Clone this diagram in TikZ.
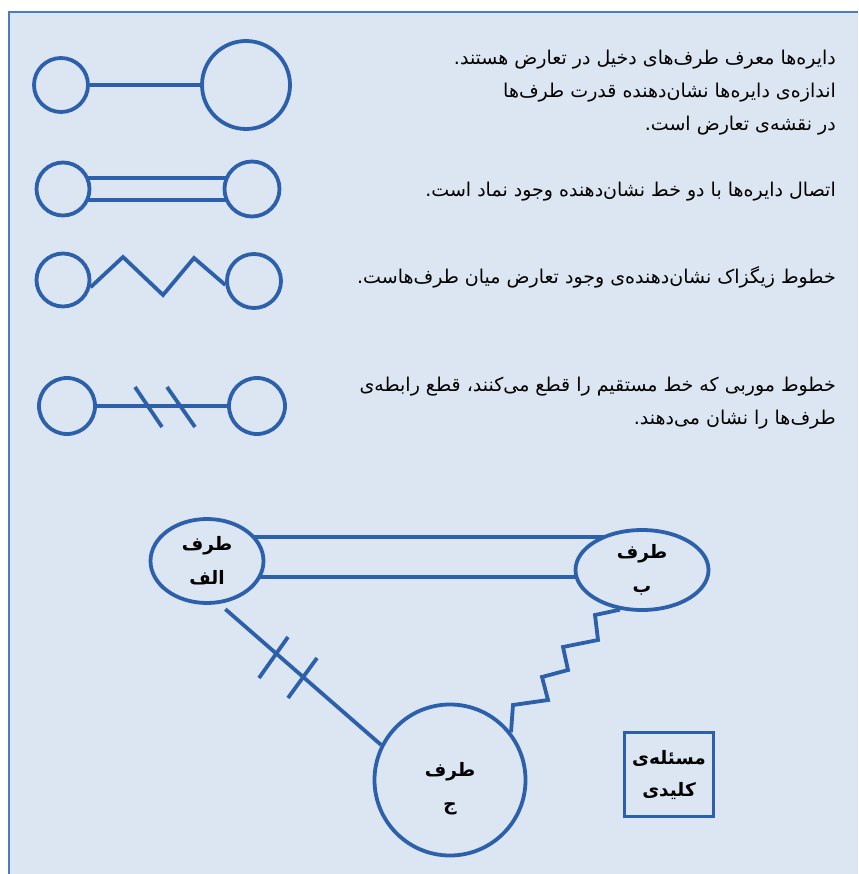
\documentclass[tikz,border=0pt]{standalone}
\usepackage{fontspec}
\usetikzlibrary{backgrounds,shapes.geometric}
\TeXXeTstate=1
\newfontfamily\arabicfont[Script=Arabic]{DejaVu Sans}
\newcommand\fatext[1]{{\arabicfont\beginR #1\endR}}
\definecolor{panelbg}{HTML}{DCE6F2}
\definecolor{panelrule}{HTML}{4A7EBB}
\definecolor{ink}{HTML}{2C60AA}

\begin{document}
\begin{tikzpicture}[x=1pt,y=-1pt,
  party/.style={draw=ink,line width=3.8pt,fill=panelbg,circle,inner sep=0pt},
  tagtext/.style={align=center,text=black,font=\bfseries\fontsize{18.5}{34}\selectfont},
  bigparty/.style={party,ellipse,tagtext},
  tie/.style={draw=ink,line width=3.8pt},
  note/.style={anchor=north east,align=right,inner sep=0pt,text=black,
    font=\fontsize{19}{33}\selectfont},
]
\useasboundingbox (0,0) rectangle (858,874);

% panel
\begin{scope}[on background layer]
  \fill[panelbg] (9,12) rectangle (858,874);
  \draw[panelrule,line width=2pt] (9,874) -- (9,12) -- (858,12);
\end{scope}

% ---- legend: circles ----
\node[party,minimum size=54pt] (l1a) at (61,85) {};
\node[party,minimum size=88pt] (l1b) at (246,85) {};
\node[party,minimum size=53pt] (l2a) at (63,189) {};
\node[party,minimum size=55pt] (l2b) at (252,189) {};
\node[party,minimum size=53pt] (l3a) at (63,280) {};
\node[party,minimum size=54pt] (l3b) at (254,281) {};
\node[party,minimum size=56pt] (l4a) at (67,406) {};
\node[party,minimum size=56pt] (l4b) at (257,406) {};

% zigzag corners
\coordinate (z1) at (123,257);
\coordinate (z2) at (163,295);
\coordinate (z3) at (194,258);

\begin{scope}[on background layer]
  \draw[tie] (l1a) -- (l1b);
  \draw[tie] ([yshift=11pt]l2a.center) -- ([yshift=11pt]l2a.center -| l2b.center);
  \draw[tie] ([yshift=-11pt]l2a.center) -- ([yshift=-11pt]l2a.center -| l2b.center);
  \draw[tie] (l4a) -- (l4b);
\end{scope}
\draw[tie] (l3a.-15) -- (z1) -- (z2) -- (z3) -- (l3b.188);
\draw[tie] (135,387) -- (162,427);
\draw[tie] (167,387) -- (195,427);

% ---- legend: texts ----
\node[note] (t1) at (836,50) {\fatext{دایره‌ها معرف طرف‌های دخیل در تعارض هستند.}\\
  \fatext{اندازه‌ی دایره‌ها نشان‌دهنده قدرت طرف‌ها}\\
  \fatext{در نقشه‌ی تعارض است.}};
\node[note] (t2) at (836,182) {\fatext{اتصال دایره‌ها با دو خط نشان‌دهنده وجود نماد است.}};
\node[note] (t3) at (836,266) {\fatext{خطوط زیگزاک نشان‌دهنده‌ی وجود تعارض میان طرف‌هاست.}};
\node[note] (t4) at (836,377) {\fatext{خطوط موربی که خط مستقیم را قطع می‌کنند، قطع رابطه‌ی}\\
  \fatext{طرف‌ها را نشان می‌دهند.}};

% ---- conflict map ----
\node[bigparty,minimum width=113pt,minimum height=84pt] (A) at (207,561)
  {\fatext{طرف}\\\fatext{الف}};
\node[bigparty,minimum width=133pt,minimum height=80pt] (B) at (642,570)
  {\fatext{طرف}\\\fatext{ب}};
\node[party,minimum size=151pt,
  label={[tagtext,yshift=-9pt]center:{\fatext{طرف}\\\fatext{ج}}}] (C) at (450,780) {};
\node[draw=ink,line width=3.4pt,fill=panelbg,minimum width=89pt,minimum height=84pt,
  tagtext,inner sep=0pt,font=\bfseries\fontsize{18.5}{32}\selectfont] (K) at (669,774.5)
  {\fatext{مسئله‌ی}\\\fatext{کلیدی}};

% zigzag corners between C and B
\coordinate (w1) at (513,705);
\coordinate (w2) at (548,700);
\coordinate (w3) at (542,677);
\coordinate (w4) at (568,670);
\coordinate (w5) at (563,647);
\coordinate (w6) at (598,640);
\coordinate (w7) at (595,615);
\coordinate (mid) at (0,557);

\begin{scope}[on background layer]
  \draw[tie] ([yshift=20pt]A.center |- mid) -- ([yshift=20pt]B.center |- mid);
  \draw[tie] ([yshift=-20pt]A.center |- mid) -- ([yshift=-20pt]B.center |- mid);
\end{scope}
\draw[tie,shorten <=8pt] (A.-74) -- (C.153);
\draw[tie] (259,678) -- (288,637);
\draw[tie] (288,698) -- (317,658);
\draw[tie] (C.38) -- (w1) -- (w2) -- (w3) -- (w4) -- (w5) -- (w6) -- (w7) -- (B.241);
\end{tikzpicture}
\end{document}
